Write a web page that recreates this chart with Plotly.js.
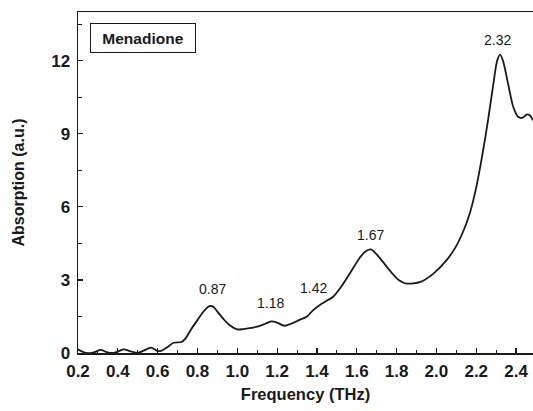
<!DOCTYPE html>
<html>
<head>
<meta charset="utf-8">
<script src="https://cdn.plot.ly/plotly-3.0.1.min.js"></script>
<style>html,body{margin:0;padding:0;background:#fff;}#chart{width:533px;height:411px;}</style>
</head>
<body>
<div id="chart"></div>
<script>
const freq = [0.20,0.24,0.28,0.315,0.34,0.37,0.40,0.43,0.46,0.50,0.53,0.567,0.60,0.62,0.65,0.68,0.72,0.74,0.77,0.80,0.83,0.86,0.88,0.90,0.93,0.96,1.00,1.03,1.07,1.10,1.14,1.17,1.20,1.235,1.27,1.31,1.35,1.38,1.42,1.45,1.48,1.52,1.56,1.61,1.64,1.67,1.70,1.74,1.78,1.81,1.85,1.92,1.985,2.05,2.10,2.14,2.17,2.20,2.23,2.26,2.285,2.305,2.32,2.336,2.36,2.386,2.41,2.43,2.455,2.47,2.485];
const absorption = [0.15,0.0,0.03,0.13,0.05,0.0,0.06,0.15,0.08,0.0,0.1,0.22,0.08,0.1,0.25,0.42,0.45,0.6,1.0,1.35,1.7,1.92,1.9,1.7,1.4,1.15,0.97,0.98,1.03,1.08,1.2,1.3,1.25,1.12,1.2,1.35,1.5,1.75,2.0,2.15,2.3,2.7,3.2,3.85,4.15,4.25,4.05,3.65,3.25,3.0,2.85,2.92,3.26,3.8,4.4,5.1,5.8,6.8,8.1,9.6,11.0,12.0,12.25,11.95,11.05,10.1,9.7,9.65,9.8,9.75,9.55];
const peakLabels = ['0.87','1.18','1.42','1.67','2.32'];
const peakX = [0.873,1.166,1.382,1.668,2.306];
const peakY = [2.63,2.05,2.67,4.85,12.85];
const xTicks = [0.2,0.4,0.6,0.8,1.0,1.2,1.4,1.6,1.8,2.0,2.2,2.4];
const xTickText = ['0.2','0.4','0.6','0.8','1.0','1.2','1.4','1.6','1.8','2.0','2.2','2.4'];
const yTicks = [0,3,6,9,12];
const sampleName = 'Menadione';

const ink = '#1a1a1a';
const fam = 'Liberation Sans, Arial, sans-serif';

const annotations = peakLabels.map((t,i)=>({
  x: peakX[i], y: peakY[i], xref:'x', yref:'y', text:t, showarrow:false,
  font:{family:fam, size:14, color:ink}, xanchor:'center', yanchor:'middle'
}));
annotations.push({
  x: 0.026, y: 0.968, xref:'paper', yref:'paper', xanchor:'left', yanchor:'top',
  text: sampleName, showarrow:false, width:100, height:24, borderpad:2,
  bordercolor: ink, borderwidth:1, bgcolor:'#fff',
  font:{family:fam, size:15.5, color:ink, weight:'bold'}
});

const data = [{
  x: freq, y: absorption, type:'scatter', mode:'lines',
  line:{color:ink, width:1.8, shape:'spline', smoothing:0.8},
  hoverinfo:'skip'
}];

const layout = {
  width:533, height:411,
  margin:{l:78, r:0, t:12, b:58},
  paper_bgcolor:'#fff', plot_bgcolor:'#fff',
  showlegend:false,
  xaxis:{
    range:[0.2,2.485], tickvals:xTicks, ticktext:xTickText,
    ticks:'inside', ticklen:5, tickwidth:1.2, tickcolor:ink,
    minor:{dtick:0.1, ticks:'inside', ticklen:3, tickwidth:1, tickcolor:ink, tick0:0.2},
    showline:true, linecolor:ink, linewidth:1.5, mirror:true,
    showgrid:false, zeroline:false, ticklabelstandoff:2,
    tickfont:{family:fam, size:17, color:ink, weight:'bold'},
    title:{text:'Frequency (THz)', font:{family:fam, size:16.5, color:ink, weight:'bold'}, standoff:8}
  },
  yaxis:{
    range:[0,14], tickvals:yTicks,
    ticks:'inside', ticklen:5, tickwidth:1.2, tickcolor:ink,
    minor:{dtick:1.5, tick0:0, ticks:'inside', ticklen:4, tickwidth:1, tickcolor:ink},
    showline:true, linecolor:ink, linewidth:1.5, mirror:false,
    showgrid:false, zeroline:false, ticklabelstandoff:3,
    tickfont:{family:fam, size:17, color:ink, weight:'bold'},
    title:{text:'Absorption (a.u.)', font:{family:fam, size:16, color:ink, weight:'bold'}, standoff:22}
  },
  annotations: annotations
};

Plotly.newPlot('chart', data, layout, {displayModeBar:false, staticPlot:true});
</script>
</body>
</html>
